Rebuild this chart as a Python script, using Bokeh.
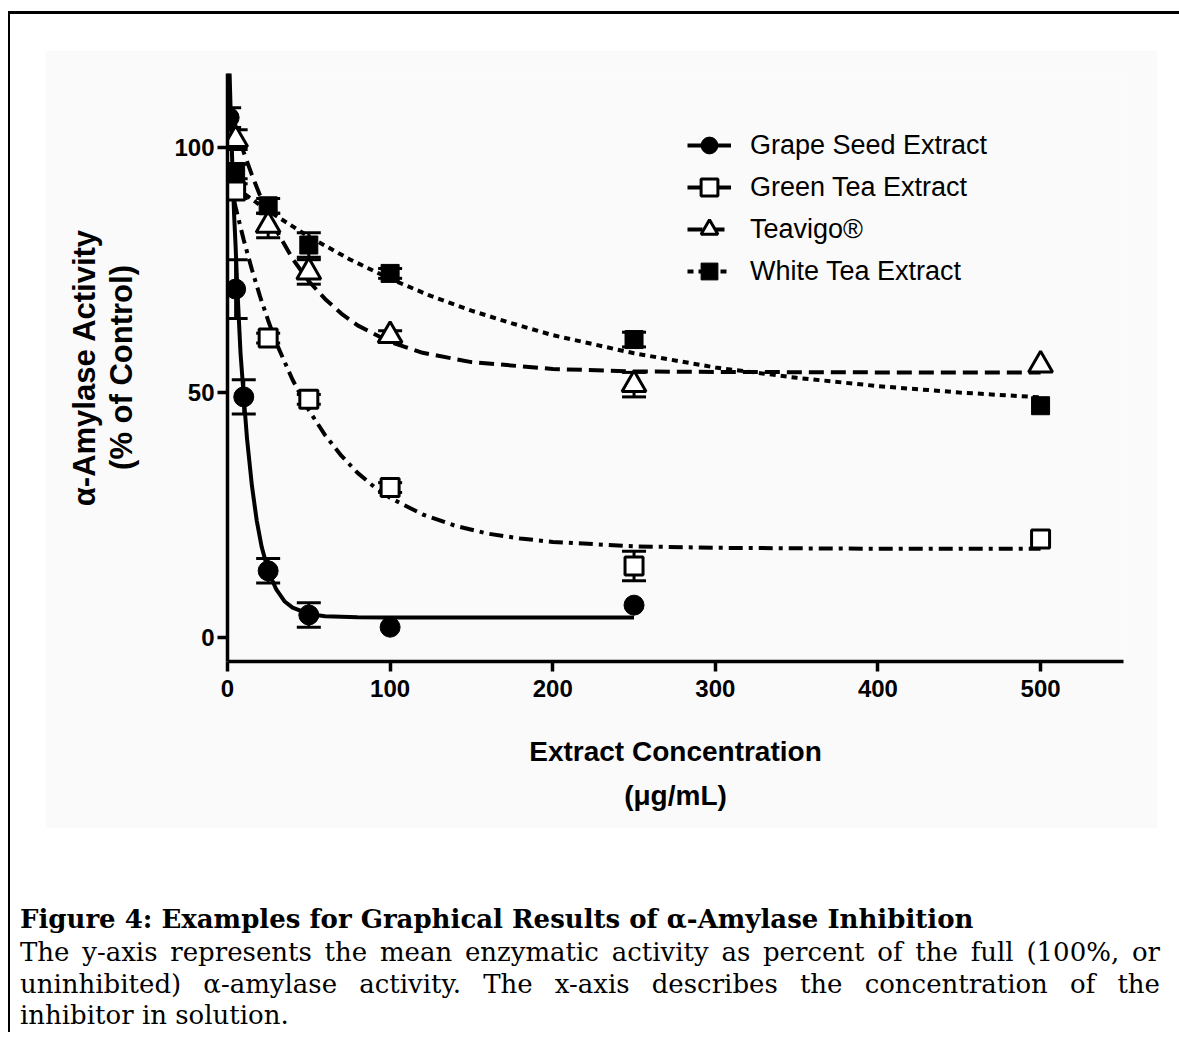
from bokeh.plotting import figure
from bokeh.models import (ColumnDataSource, Whisker, TeeHead, Legend, LegendItem,
                          FixedTicker, Range1d, Div)
from bokeh.layouts import column
from bokeh.embed import file_html
from bokeh.resources import INLINE

# ---------------- data ----------------
x_ticks = [0, 100, 200, 300, 400, 500]
y_ticks = [0, 50, 100]

names = ["Grape Seed Extract", "Green Tea Extract", "Teavigo\u00ae", "White Tea Extract"]

grape_x = [1, 5, 10, 25, 50, 100, 250]
grape_y = [106, 71, 49, 13.5, 4.5, 2.0, 6.5]
grape_err = [2.0, 6.0, 3.5, 2.5, 2.5, 0.0, 0.0]

green_x = [5, 25, 50, 100, 250, 500]
green_y = [91, 61, 48.5, 30.5, 14.5, 20.0]
green_err = [1.5, 1.0, 1.0, 1.0, 3.0, 0.0]

teav_x = [5, 25, 50, 100, 250, 500]
teav_y = [101.5, 84, 74.5, 61.5, 51.5, 55.5]
teav_err = [2.0, 2.5, 2.5, 1.0, 2.5, 0.0]

white_x = [5, 25, 50, 100, 250, 500]
white_y = [95, 88, 80, 74.2, 60.7, 47.2]
white_err = [1.5, 1.5, 2.5, 1.0, 1.5, 0.0]

# fitted curves, points
grape_fit_x = [0.5, 1, 2, 3, 4, 5, 6, 8, 10, 12, 15, 18, 21, 25, 30, 35, 40, 50, 60, 80, 100, 150, 200, 250]
grape_fit_y = [125, 118.5, 106.6, 96, 86.6, 79.6, 71.4, 58, 49, 40.5, 30.9, 23.7, 18.4, 13.5, 9.7, 7.3, 6.0, 4.7, 4.25, 4.03, 4.0, 4.0, 4.0, 4.0]

green_fit_x = [0, 5, 10, 15, 20, 25, 30, 40, 50, 60, 70, 80, 90, 100, 120, 140, 160, 180, 200, 250, 300, 400, 500]
green_fit_y = [95, 87.7, 81, 75, 69.5, 64.6, 60, 52.5, 46.3, 41.2, 37, 33.5, 30.7, 28.4, 25, 22.7, 21.1, 20.1, 19.4, 18.5, 18.2, 18.0, 18.0]

teav_fit_x = [0, 5, 10, 15, 20, 25, 30, 40, 50, 60, 70, 80, 100, 120, 150, 200, 250, 300, 400, 500]
teav_fit_y = [110, 104.2, 98.9, 94.3, 90.1, 86.3, 83, 77.2, 72.6, 69, 66, 63.6, 60.2, 58, 56.1, 54.7, 54.2, 54.1, 54.0, 54.0]

white_fit_x = [0, 10, 25, 50, 75, 100, 125, 150, 175, 200, 250, 300, 350, 400, 450, 500]
white_fit_y = [93, 90.5, 87, 81.7, 77.1, 73.1, 69.6, 66.6, 64, 61.6, 57.9, 55, 52.9, 51.2, 49.9, 48.9]

# ---------------- figure ----------------
BG = "#fafafa"
FONT = "Liberation Sans"

p = figure(width=1112, height=778, x_range=Range1d(0, 551), y_range=Range1d(-5, 115),
           output_backend="svg", toolbar_location=None,
           min_border_left=182, min_border_right=34, min_border_top=23, min_border_bottom=167)
p.background_fill_color = BG
p.border_fill_color = BG
p.outline_line_color = None
p.grid.visible = False

p.xaxis.ticker = FixedTicker(ticks=x_ticks)
p.yaxis.ticker = FixedTicker(ticks=y_ticks)
p.xaxis.axis_label = "Extract Concentration\n(\u03bcg/mL)"
p.yaxis.axis_label = "\u03b1-Amylase Activity\n(% of Control)"
for ax in (p.xaxis[0], p.yaxis[0]):
    ax.axis_line_width = 3.5
    ax.axis_line_color = "black"
    ax.major_tick_line_width = 3.5
    ax.major_tick_line_color = "black"
    ax.major_tick_out = 10
    ax.major_tick_in = 0
    ax.minor_tick_line_color = None
    ax.major_label_text_font = FONT
    ax.major_label_text_font_style = "bold"
    ax.major_label_text_font_size = "24px"
    ax.major_label_text_color = "black"
    ax.axis_label_text_font = FONT
    ax.axis_label_text_font_style = "bold"
    ax.axis_label_text_color = "black"
p.xaxis.axis_label_text_font_size = "28px"
p.yaxis.axis_label_text_font_size = "31px"
p.xaxis.major_label_standoff = 8
p.xaxis.axis_label_standoff = 36
p.xaxis.axis_label_text_line_height = 1.45
p.yaxis.major_label_standoff = 3
p.yaxis.axis_label_standoff = 32
p.yaxis.axis_label_text_line_height = 1.08

LW = 4
fits = [
    (grape_fit_x, grape_fit_y, "solid"),
    (green_fit_x, green_fit_y, "14 6 4 6"),
    (teav_fit_x, teav_fit_y, "15 7"),
    (white_fit_x, white_fit_y, "6 5"),
]
line_renderers = []
for fx, fy, dash in fits:
    r = p.line(fx, fy, line_color="black", line_width=LW, line_dash=dash)
    line_renderers.append(r)

# error bars
for xs, ys, es in [(grape_x, grape_y, grape_err), (green_x, green_y, green_err),
                   (teav_x, teav_y, teav_err), (white_x, white_y, white_err)]:
    keep = [i for i, e in enumerate(es) if e > 0]
    src = ColumnDataSource(dict(
        x=[xs[i] for i in keep],
        upper=[ys[i] + es[i] for i in keep],
        lower=[ys[i] - es[i] for i in keep]))
    w = Whisker(source=src, base="x", upper="upper", lower="lower",
                line_color="black", line_width=3, level="underlay",
                upper_head=TeeHead(size=24, line_width=3, line_color="black"),
                lower_head=TeeHead(size=24, line_width=3, line_color="black"))
    p.add_layout(w)

# markers
s_grape = p.scatter(grape_x, grape_y, marker="circle", size=20,
                    fill_color="black", line_color="black", line_width=1)
s_green = p.scatter(green_x, green_y, marker="square", size=18,
                    fill_color="white", line_color="black", line_width=3)
s_teav = p.scatter(teav_x, teav_y, marker="triangle", size=24,
                   fill_color="white", line_color="black", line_width=3)
s_white = p.scatter(white_x, white_y, marker="square", size=18,
                    fill_color="black", line_color="black", line_width=1)
scatter_renderers = [s_grape, s_green, s_teav, s_white]

items = [LegendItem(label=n, renderers=[lr, sr])
         for n, lr, sr in zip(names, line_renderers, scatter_renderers)]
legend = Legend(items=items, location=(460, 369), padding=0, margin=0,
                glyph_width=44, glyph_height=42, label_height=42, spacing=0,
                label_standoff=19, label_text_font=FONT, label_text_font_size="27px",
                label_text_color="black", border_line_color=None,
                background_fill_alpha=0)
p.add_layout(legend)

# ---------------- caption ----------------
body_style = ("font-size:26px;line-height:31.5px;text-align:justify;"
              "text-align-last:justify;white-space:nowrap;")
cap_html = (
    "<div style=\"font-family:'DejaVu Serif',serif;color:#000;width:1140px;\">"
    "<div style=\"font-weight:bold;font-size:26px;line-height:36px;white-space:nowrap;\">"
    "Figure 4: Examples for Graphical Results of \u03b1-Amylase Inhibition</div>"
    "<div style=\"" + body_style + "\">"
    "The y-axis represents the mean enzymatic activity as percent of the full (100%, or</div>"
    "<div style=\"" + body_style + "\">"
    "uninhibited) \u03b1-amylase activity. The x-axis describes the concentration of the</div>"
    "<div style=\"font-size:26px;line-height:31.5px;\">inhibitor in solution.</div>"
    "</div>"
)
cap = Div(text=cap_html, width=1140, height=131, margin=(73, 0, 0, 10))
p.margin = (36, 0, 0, 35)

layout = column(p, cap, width=1171, margin=(11, 0, 0, 8),
                styles={"border-top": "3px solid #000", "border-left": "2px solid #000"})

open("out.html", "w").write(file_html(layout, INLINE))
